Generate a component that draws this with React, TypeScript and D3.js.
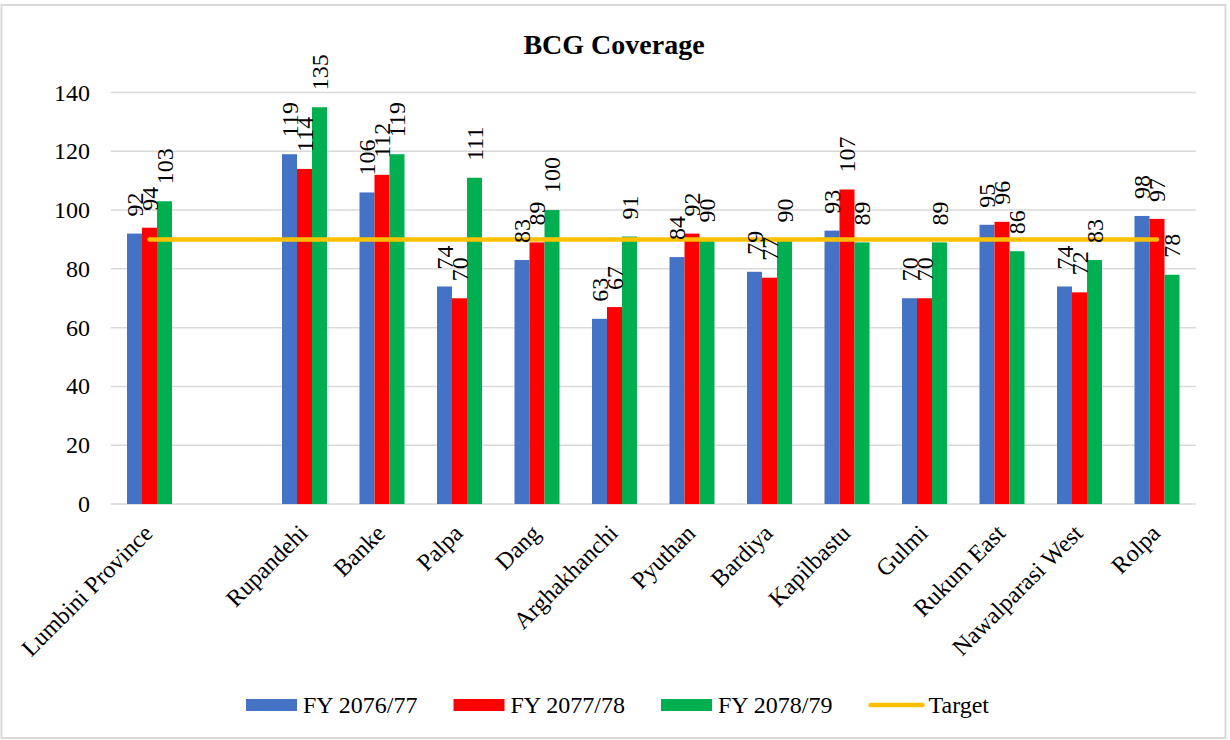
import React, { useEffect } from "react";
import * as d3 from "d3";

const categories = [
  "Lumbini Province", "", "Rupandehi", "Banke", "Palpa", "Dang", "Arghakhanchi",
  "Pyuthan", "Bardiya", "Kapilbastu", "Gulmi", "Rukum East", "Nawalparasi West", "Rolpa",
];
const fy7677: (number | null)[] = [92, null, 119, 106, 74, 83, 63, 84, 79, 93, 70, 95, 74, 98];
const fy7778: (number | null)[] = [94, null, 114, 112, 70, 89, 67, 92, 77, 107, 70, 96, 72, 97];
const fy7879: (number | null)[] = [103, null, 135, 119, 111, 100, 91, 90, 90, 89, 89, 86, 83, 78];
const targetValue = 90;
const yTicks = [0, 20, 40, 60, 80, 100, 120, 140];
const seriesNames = ["FY 2076/77", "FY 2077/78", "FY 2078/79"];
const seriesColors = ["#4472C4", "#FF0000", "#00B050"];
const targetName = "Target";
const targetColor = "#FFC000";

const W = 1230;
const H = 740;
const FONT = "'Liberation Serif', 'Times New Roman', serif";

export default function App() {
  useEffect(() => {
    document.body.style.margin = "0";
  }, []);

  const left = 110.75;
  const right = 1195.75;
  const y0 = 504;
  const yTop = 92.5;

  const x = d3.scaleBand<string>().domain(categories.map((_, i) => String(i))).range([left, right]).paddingInner(0).paddingOuter(0);
  const y = d3.scaleLinear().domain([0, 140]).range([y0, yTop]);
  const inner = d3.scaleBand<number>().domain([0, 1, 2]).range([-22.5, 22.5]).padding(0);
  const series = [fy7677, fy7778, fy7879];

  const cx = (i: number) => (x(String(i)) as number) + x.bandwidth() / 2;

  const firstIdx = 0;
  const lastIdx = categories.length - 1;
  const targetLine = d3.line<number>().x((i) => cx(i)).y(() => y(targetValue));

  const legendStart = 246;
  const legendPitch = 207.5;
  const legendY = 705;

  return (
    <svg width={W} height={H} style={{ display: "block", fontFamily: FONT }}>
      <rect x={0} y={0} width={W} height={H} fill="#fff" />
      <rect x={1.5} y={5} width={1224} height={733} fill="#fff" stroke="#d9d9d9" strokeWidth={2} />
      <text x={614} y={54} textAnchor="middle" fontSize={28} fontWeight="bold" fill="#000">BCG Coverage</text>

      {yTicks.map((t) => (
        <g key={t}>
          <line x1={left} x2={right} y1={y(t)} y2={y(t)} stroke="#d9d9d9" strokeWidth={1.5} />
          <text x={90} y={y(t)} textAnchor="end" dominantBaseline="central" fontSize={24} fill="#000">{t}</text>
        </g>
      ))}

      {series.map((vals, si) =>
        vals.map((v, i) =>
          v == null ? null : (
            <rect
              key={`b${si}-${i}`}
              x={cx(i) + (inner(si) as number)}
              y={y(v)}
              width={inner.bandwidth()}
              height={y0 - y(v)}
              fill={seriesColors[si]}
            />
          )
        )
      )}

      <path
        d={targetLine([firstIdx, lastIdx]) || ""}
        stroke={targetColor}
        strokeWidth={4.5}
        strokeLinecap="round"
        fill="none"
      />

      {series.map((vals, si) =>
        vals.map((v, i) =>
          v == null ? null : (
            <text
              key={`l${si}-${i}`}
              transform={`translate(${cx(i) + (inner(si) as number) + inner.bandwidth() / 2},${y(v) - 17}) rotate(-90)`}
              textAnchor="start"
              dominantBaseline="central"
              fontSize={24}
              fill="#000"
            >
              {v}
            </text>
          )
        )
      )}

      {categories.map((c, i) =>
        c ? (
          <text
            key={`c${i}`}
            transform={`translate(${cx(i) - 1},${529}) rotate(-45)`}
            textAnchor="end"
            dominantBaseline="central"
            fontSize={24}
            fill="#000"
          >
            {c}
          </text>
        ) : null
      )}

      {seriesNames.map((n, si) => (
        <g key={`lg${si}`} transform={`translate(${legendStart + si * legendPitch},${legendY})`}>
          <rect x={0} y={-6} width={51} height={12} fill={seriesColors[si]} />
          <text x={57} y={0} dominantBaseline="central" fontSize={24} fill="#000">{n}</text>
        </g>
      ))}
      <g transform={`translate(${legendStart + 3 * legendPitch},${legendY})`}>
        <line x1={2} x2={54} y1={0} y2={0} stroke={targetColor} strokeWidth={4.5} strokeLinecap="round" />
        <text x={60} y={0} dominantBaseline="central" fontSize={24} fill="#000">{targetName}</text>
      </g>
    </svg>
  );
}
